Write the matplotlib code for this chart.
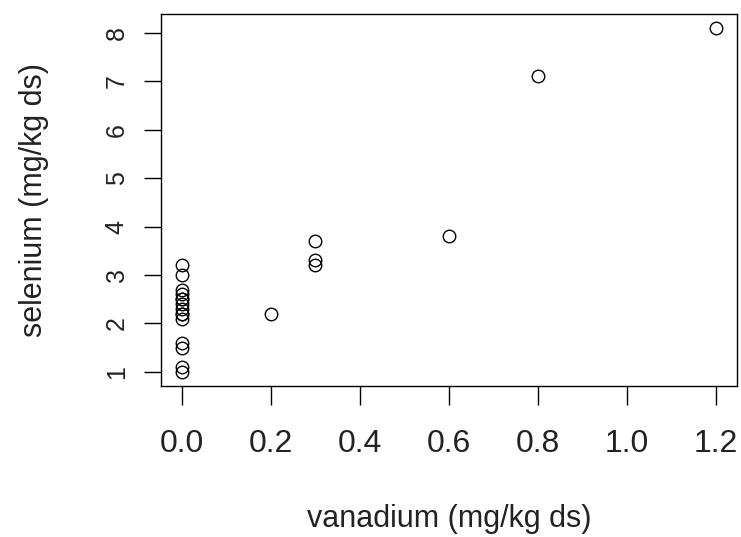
import matplotlib
matplotlib.use("Agg")
import matplotlib.pyplot as plt

# vanadium vs selenium, both mg/kg ds
vanadium = [0.0, 0.0, 0.0, 0.0, 0.0, 0.0, 0.0, 0.0, 0.0, 0.0, 0.0, 0.0, 0.0, 0.0, 0.0,
            0.2, 0.3, 0.3, 0.3, 0.6, 0.8, 1.2]
selenium = [3.2, 3.0, 2.7, 2.6, 2.5, 2.5, 2.4, 2.3, 2.2, 2.2, 2.1, 1.6, 1.5, 1.1, 1.0,
            2.2, 3.7, 3.3, 3.2, 3.8, 7.1, 8.1]

x_ticks = [0.0, 0.2, 0.4, 0.6, 0.8, 1.0, 1.2]
y_ticks = [1, 2, 3, 4, 5, 6, 7, 8]

plt.rcParams["font.family"] = ["Liberation Sans", "DejaVu Sans"]

fig = plt.figure(figsize=(7.41, 5.37), dpi=100)
ax = fig.add_axes([0.2169, 0.2818, 0.7777, 0.6921])

ax.plot(vanadium, selenium, linestyle="none", marker="o", markersize=9,
        markerfacecolor="none", markeredgecolor="black", markeredgewidth=1.0)

xpad = 0.04 * (max(vanadium) - min(vanadium))
ypad = 0.04 * (max(selenium) - min(selenium))
ax.set_xlim(min(vanadium) - xpad, max(vanadium) + xpad)
ax.set_ylim(min(selenium) - ypad, max(selenium) + ypad)

ax.set_xticks(x_ticks)
ax.set_xticklabels([f"{v:.1f}" for v in x_ticks])
ax.set_yticks(y_ticks)
ax.set_yticklabels([str(v) for v in y_ticks], rotation=90, va="center")

ax.tick_params(axis="x", direction="out", length=13.5, width=1.0, pad=18,
               labelsize=23, colors="black", labelcolor="#222222")
ax.tick_params(axis="y", direction="out", length=12, width=1.0, pad=11,
               labelsize=18, colors="black", labelcolor="#222222")

for spine in ax.spines.values():
    spine.set_linewidth(1.0)

ax.set_xlabel("vanadium (mg/kg ds)", fontsize=22, labelpad=32, color="#222222")
ax.set_ylabel("selenium (mg/kg ds)", fontsize=22, labelpad=40, color="#222222")

fig.savefig("out.png", dpi=100)
